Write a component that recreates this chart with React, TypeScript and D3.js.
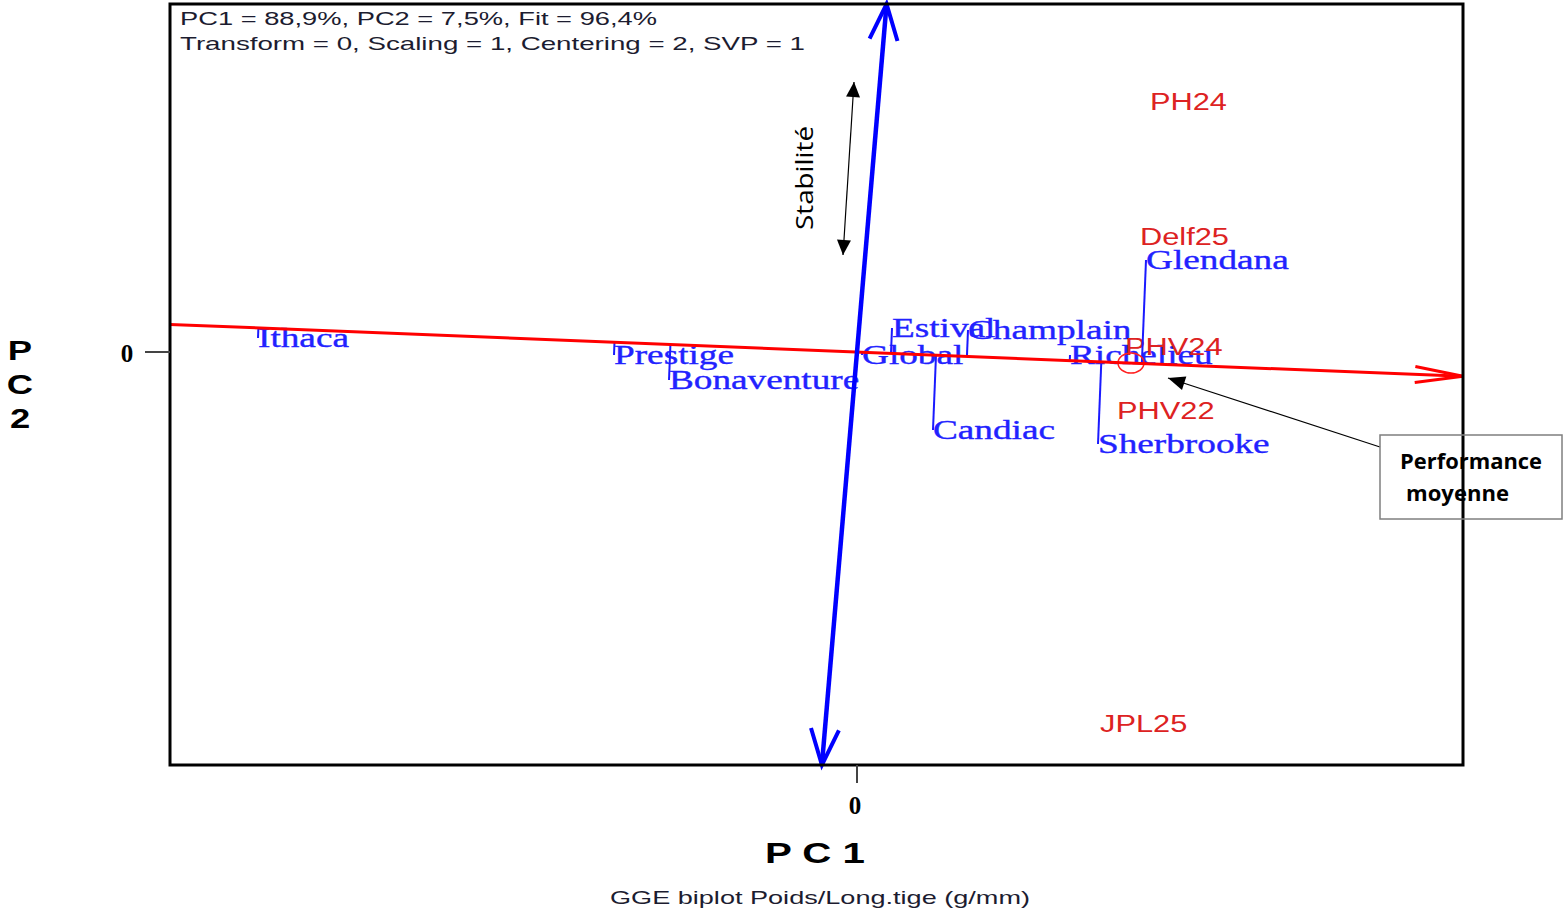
import React from 'react';
import * as d3 from 'd3';

const genotypes = ['Ithaca', 'Prestige', 'Bonaventure', 'Global', 'Estival', 'Champlain', 'Candiac', 'Richelieu', 'Sherbrooke', 'Glendana'];
const genotypePC1 = [-5.99, -2.43, -1.88, 0.05, 0.35, 1.11, 0.76, 2.13, 2.41, 2.89];
const genotypePC2 = [0.14, -0.03, -0.28, -0.03, 0.24, 0.22, -0.78, -0.03, -0.92, 0.92];

const environments = ['PH24', 'Delf25', 'PHV24', 'PHV22', 'JPL25'];
const environmentPC1 = [2.93, 2.83, 2.68, 2.6, 2.43];
const environmentPC2 = [2.5, 1.15, 0.05, -0.59, -3.72];

const meanEnvironment = [2.74, -0.11];
const ordinateLean = 0.085;

const pc1Domain = [-6.87, 6.06];
const pc2Domain = [-4.13, 3.48];
const pc1Ticks = [0];
const pc2Ticks = [0];

const headerLines = ['PC1 = 88,9%, PC2 = 7,5%, Fit = 96,4%', 'Transform = 0, Scaling = 1, Centering = 2, SVP = 1'];
const chartTitle = 'GGE biplot Poids/Long.tige (g/mm)';
const stabilityLabel = 'Stabilité';
const calloutLines = ['Performance', 'moyenne'];

const W = 1563;
const H = 914;
const frame = { left: 170, right: 1463, top: 4, bottom: 765 };

export default function App() {
  const x = d3.scaleLinear().domain(pc1Domain).range([frame.left, frame.right]);
  const y = d3.scaleLinear().domain(pc2Domain).range([frame.bottom, frame.top]);

  const ox = x(0);
  const oy = y(0);

  const slope = meanEnvironment[1] / meanEnvironment[0];
  const rA = [x(pc1Domain[0]), y(slope * pc1Domain[0])];
  const rB = [x(pc1Domain[1]), y(slope * pc1Domain[1])];
  const rdx = rB[0] - rA[0];
  const rdy = rB[1] - rA[1];
  const rl = Math.hypot(rdx, rdy);
  const ux = rdx / rl;
  const uy = rdy / rl;

  const bBot = [x(ordinateLean * pc2Domain[0]), y(pc2Domain[0])];
  const bTop = [x(ordinateLean * pc2Domain[1]), y(pc2Domain[1])];

  const vHead = (tip: number[], from: number[], len: number, spread: number) => {
    const dx = tip[0] - from[0];
    const dy = tip[1] - from[1];
    const l = Math.hypot(dx, dy);
    const ax = dx / l;
    const ay = dy / l;
    const bx = tip[0] - ax * len;
    const by = tip[1] - ay * len;
    const px = -ay;
    const py = ax;
    return `M${bx + px * spread},${by + py * spread}L${tip[0]},${tip[1]}L${bx - px * spread},${by - py * spread}`;
  };

  const foot = (px: number, py: number) => {
    const t = (px - ox) * ux + (py - oy) * uy;
    return [ox + t * ux, oy + t * uy];
  };

  const triHead = (tip: number[], from: number[], len: number, half: number) => {
    const dx = tip[0] - from[0];
    const dy = tip[1] - from[1];
    const l = Math.hypot(dx, dy);
    const ax = dx / l;
    const ay = dy / l;
    const bx = tip[0] - ax * len;
    const by = tip[1] - ay * len;
    return `M${tip[0]},${tip[1]}L${bx - ay * half},${by + ax * half}L${bx + ay * half},${by - ax * half}Z`;
  };

  const meanPx = [x(meanEnvironment[0]), y(meanEnvironment[1])];

  const stabTop = [854, 82];
  const stabBot = [843, 255];
  const callFrom = [1380, 447];
  const callTip = [meanPx[0] + 37, meanPx[1] + 15];

  return (
    <svg width={W} height={H} style={{ position: 'absolute', left: 0, top: 0, background: '#fff' }}>
      <rect x={0} y={0} width={W} height={H} fill="#fff" />

      {headerLines.map((t, i) => (
        <text key={t} x={180} y={25 + i * 25} fontFamily="Liberation Sans, Arial, sans-serif" fontSize={18.5}
          fill="#1c1c30" textLength={i === 0 ? 477 : 625} lengthAdjust="spacingAndGlyphs">{t}</text>
      ))}

      {genotypes.map((g, i) => (
        <text key={g} transform={`translate(${x(genotypePC1[i])},${y(genotypePC2[i])}) scale(1.38,1)`}
          dy="0.33em" fontFamily="Liberation Serif, Times New Roman, serif" fontSize={27} fill="#2222ff"
          stroke="#2222ff" strokeWidth={0.35}>{g}</text>
      ))}

      {environments.map((e, i) => (
        <text key={e} transform={`translate(${x(environmentPC1[i])},${y(environmentPC2[i])}) scale(1.31,1)`}
          dy="0.36em" fontFamily="Liberation Sans, Arial, sans-serif" fontSize={23.5} fill="#dd2222">{e}</text>
      ))}

      {genotypes.map((g, i) => {
        const px = x(genotypePC1[i]);
        const py = y(genotypePC2[i]);
        const f = foot(px, py);
        return <line key={'p' + g} x1={px} y1={py} x2={f[0]} y2={f[1]} stroke="#1a1aff" strokeWidth={2} />;
      })}

      <ellipse cx={meanPx[0]} cy={meanPx[1]} rx={13} ry={10} fill="none" stroke="#ff2020" strokeWidth={1.5} />

      <line x1={rA[0]} y1={rA[1]} x2={rB[0]} y2={rB[1]} stroke="#ff0000" strokeWidth={3} />
      <path d={vHead(rB, rA, 48, 8)} fill="none" stroke="#ff0000" strokeWidth={3} />

      <line x1={bBot[0]} y1={bBot[1]} x2={bTop[0]} y2={bTop[1]} stroke="#0000ff" strokeWidth={4.5} />
      <path d={vHead(bTop, bBot, 36, 14)} fill="none" stroke="#0000ff" strokeWidth={4} />
      <path d={vHead(bBot, bTop, 36, 14)} fill="none" stroke="#0000ff" strokeWidth={4} />

      <rect x={frame.left} y={frame.top} width={frame.right - frame.left} height={frame.bottom - frame.top}
        fill="none" stroke="#000" strokeWidth={3} />

      {pc1Ticks.map(t => (
        <g key={'xt' + t}>
          <line x1={x(t)} x2={x(t)} y1={frame.bottom} y2={frame.bottom + 18} stroke="#444" strokeWidth={2} />
          <text x={x(t) - 2} y={805} dy="0.35em" textAnchor="middle" fontFamily="Liberation Serif, Times New Roman, serif"
            fontWeight="bold" fontSize={25}>{t}</text>
        </g>
      ))}
      {pc2Ticks.map(t => (
        <g key={'yt' + t}>
          <line x1={frame.left - 25} x2={frame.left} y1={y(t)} y2={y(t)} stroke="#444" strokeWidth={2} />
          <text x={127} y={y(t) + 1} dy="0.35em" textAnchor="middle" fontFamily="Liberation Serif, Times New Roman, serif"
            fontWeight="bold" fontSize={25}>{t}</text>
        </g>
      ))}

      <text x={765} y={853} dy="0.36em" fontFamily="Liberation Sans, Arial, sans-serif" fontWeight="bold" fontSize={29}
        textLength={100} lengthAdjust="spacingAndGlyphs">P C 1</text>
      {['P', 'C', '2'].map((c, i) => (
        <text key={c} transform={`translate(20,${350 + i * 34}) scale(1.3,1)`} dy="0.36em" textAnchor="middle"
          fontFamily="Liberation Sans, Arial, sans-serif" fontWeight="bold" fontSize={28}>{c}</text>
      ))}
      <text x={820} y={897} dy="0.35em" textAnchor="middle" fontFamily="Liberation Sans, Arial, sans-serif" fontSize={19}
        fill="#1c1c30" textLength={420} lengthAdjust="spacingAndGlyphs">{chartTitle}</text>

      <line x1={stabTop[0]} y1={stabTop[1]} x2={stabBot[0]} y2={stabBot[1]} stroke="#000" strokeWidth={1.2} />
      <path d={triHead(stabTop, stabBot, 15, 7)} fill="#000" />
      <path d={triHead(stabBot, stabTop, 15, 7)} fill="#000" />
      <text transform="translate(805,178) rotate(-90)" dy="0.35em" textAnchor="middle"
        fontFamily="Open Sans, Noto Sans, sans-serif" fontSize={23} textLength={104} lengthAdjust="spacingAndGlyphs">{stabilityLabel}</text>

      <line x1={callFrom[0]} y1={callFrom[1]} x2={callTip[0]} y2={callTip[1]} stroke="#000" strokeWidth={1.2} />
      <path d={triHead(callTip, callFrom, 17, 7)} fill="#000" />
      <rect x={1380} y={435} width={182} height={84} fill="none" stroke="#7f7f7f" strokeWidth={1.5} />
      <text x={1400} y={462} dy="0.35em" fontFamily="Open Sans, Noto Sans, sans-serif" fontWeight="bold" fontSize={21}
        textLength={142} lengthAdjust="spacingAndGlyphs">{calloutLines[0]}</text>
      <text x={1406} y={494} dy="0.35em" fontFamily="Open Sans, Noto Sans, sans-serif" fontWeight="bold" fontSize={21}
        textLength={103} lengthAdjust="spacingAndGlyphs">{calloutLines[1]}</text>
    </svg>
  );
}
